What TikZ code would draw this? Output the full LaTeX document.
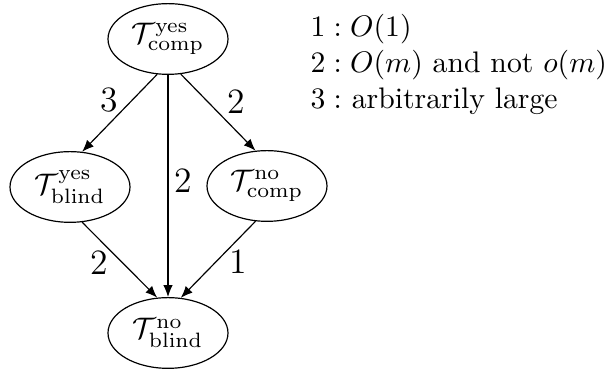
\documentclass[tikz,border=0pt]{standalone}
\usetikzlibrary{shapes.geometric,arrows.meta}
\begin{document}
\begin{tikzpicture}[x=0.3367pt,y=-0.3367pt,
  state/.style={draw,ellipse,inner sep=0pt,minimum width=40.4pt,minimum height=23.8pt,line width=0.4pt},
  edgelab/.style={font=\large,inner sep=0pt},
  legend/.style={anchor=base west,inner sep=0pt},
  arr/.style={-{Latex[length=4pt,width=3.2pt]},line width=0.4pt}]
\useasboundingbox (0,0) rectangle (611,370);
\node[state] (tc) at (168,39) {$\mathcal{T}^{\mathrm{yes}}_{\mathrm{comp}}$};
\node[state] (yb) at (70,187) {$\mathcal{T}^{\mathrm{yes}}_{\mathrm{blind}}$};
\node[state] (nc) at (267,186) {$\mathcal{T}^{\mathrm{no}}_{\mathrm{comp}}$};
\node[state] (nb) at (168,333) {$\mathcal{T}^{\mathrm{no}}_{\mathrm{blind}}$};
\draw[arr] (tc.253) -- (yb.71);
\draw[arr] (tc.290) -- (nc.108);
\draw[arr] (tc.south) -- (nb.north);
\draw[arr] (yb.289) -- (nb.107);
\draw[arr] (nc.252) -- (nb.70);
\node[edgelab] (l1) at (109,100) {3};
\node[edgelab] (l2) at (236,102) {2};
\node[edgelab] (l3) at (183,181) {2};
\node[edgelab] (l4) at (99,263) {2};
\node[edgelab] (l5) at (238,262) {1};
\node[legend] (g1) at (310,37) {$1 : O(1)$};
\node[legend] (g2) at (310,73) {$2 : O(m)$ and not $o(m)$};
\node[legend] (g3) at (310,109) {$3 :$ arbitrarily large};
\end{tikzpicture}
\end{document}
